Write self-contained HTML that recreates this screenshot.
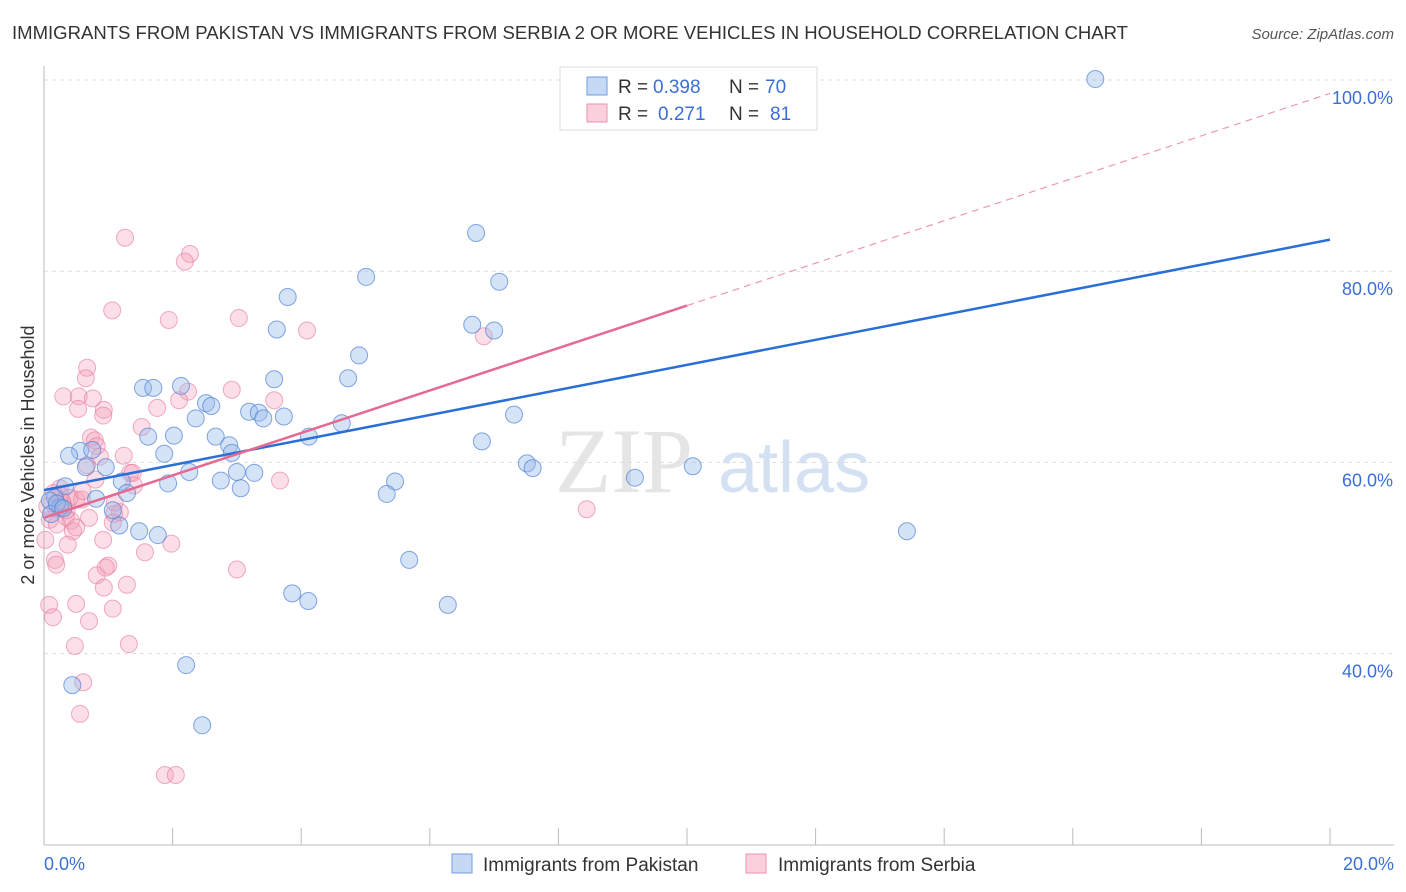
<!DOCTYPE html>
<html><head><meta charset="utf-8"><style>
body{margin:0;background:#fff;font-family:"Liberation Sans",sans-serif;}
svg{display:block}
</style></head><body>
<svg id="chart" width="1406" height="892">
<text x="12" y="39" font-size="18.5" fill="#333" textLength="1116" lengthAdjust="spacingAndGlyphs">IMMIGRANTS FROM PAKISTAN VS IMMIGRANTS FROM SERBIA 2 OR MORE VEHICLES IN HOUSEHOLD CORRELATION CHART</text>
<text x="1394" y="39" font-size="15" fill="#555" font-style="italic" text-anchor="end">Source: ZipAtlas.com</text>
<text transform="translate(34,455) rotate(-90)" font-size="18" fill="#333" text-anchor="middle">2 or more Vehicles in Household</text>
<g opacity="0.5">
<text x="555" y="492" font-size="92" font-family="Liberation Serif,serif" fill="#ccc">ZIP</text>
<text x="718" y="492" font-size="72" fill="#aac4e8">atlas</text>
</g>
<g id="grid"></g><g id="axes"></g><g id="pts"></g><g id="lines"></g>
<g>
<rect x="560" y="67" width="257" height="63" fill="#fff" stroke="#ddd"/>
<rect x="587" y="77" width="20" height="18" fill="#c5d9f5" stroke="#6f9de0"/>
<rect x="587" y="104" width="20" height="18" fill="#fbd0dc" stroke="#ec8fab"/>
<g font-size="19">
<text x="618" y="93" fill="#333">R =</text><text x="653" y="93" fill="#3a6fd8">0.398</text>
<text x="729" y="93" fill="#333">N =</text><text x="765" y="93" fill="#3a6fd8">70</text></g>
<g font-size="19">
<text x="618" y="120" fill="#333">R =</text><text x="658" y="120" fill="#3a6fd8">0.271</text>
<text x="729" y="120" fill="#333">N =</text><text x="770" y="120" fill="#3a6fd8">81</text></g>
</g>
<g>
<rect x="452" y="854" width="20" height="19" fill="#c5d9f5" stroke="#6f9de0"/>
<text x="483" y="871" font-size="19" fill="#333">Immigrants from Pakistan</text>
<rect x="746" y="854" width="20" height="19" fill="#fbd0dc" stroke="#ec8fab"/>
<text x="778" y="871" font-size="19" fill="#333">Immigrants from Serbia</text>
</g>
</svg>
<script>
const yTicks=[40,60,80,100];
const yTickLabels=["40.0%","60.0%","80.0%","100.0%"];
const xTickLabels=["0.0%","20.0%"];
const pakX=[16.35,6.72,7.08,5.01,3.79,3.62,6.66,7.0,4.9,4.73,3.58,1.54,1.7,2.13,2.52,2.6,2.36,3.19,3.34,3.41,3.73,4.63,7.31,1.62,2.02,2.67,2.88,2.92,4.12,6.81,1.87,0.56,0.39,0.75,0.65,0.96,2.26,3.0,3.27,7.51,7.6,10.09,9.19,1.93,2.75,3.06,5.46,5.33,1.21,1.29,0.81,0.33,0.17,0.09,0.25,0.11,1.07,1.17,1.48,1.77,13.42,5.68,3.86,4.11,6.28,2.21,0.44,2.46,0.2,0.3];
const pakY=[101.9,85.8,80.7,81.2,79.1,75.7,76.2,75.6,73.0,70.6,70.5,69.6,69.6,69.8,68.0,67.7,66.4,67.1,67.0,66.4,66.6,65.9,66.8,64.5,64.6,64.5,63.6,62.8,64.5,64.0,62.7,63.0,62.5,63.1,61.3,61.3,60.8,60.8,60.7,61.7,61.2,61.4,60.2,59.6,59.9,59.1,59.8,58.5,59.8,58.6,58.0,59.3,58.1,57.8,57.1,56.4,56.8,55.2,54.6,54.2,54.6,51.6,48.1,47.3,46.9,40.6,38.5,34.3,57.5,57.0].map(v=>v-1.8);
const serX=[1.26,2.27,2.19,1.06,1.94,3.03,4.09,6.84,0.67,0.65,0.30,0.54,0.76,0.53,0.93,0.92,2.92,2.24,2.10,1.76,3.58,1.52,0.73,0.79,0.82,1.24,0.87,1.34,1.38,0.67,3.67,0.25,0.50,0.59,0.19,0.34,0.42,1.09,1.18,1.07,0.45,0.92,8.44,1.57,1.98,0.37,0.17,0.19,0.82,1.0,0.96,3.0,1.29,0.93,0.08,0.50,1.07,0.14,0.70,1.32,0.48,0.61,0.56,1.88,2.05,0.25,0.09,0.02,0.3,0.6,0.4,1.1,0.2,0.8,0.35,0.15,0.7,1.4,0.5,0.28,0.05];
const serY=[83.5,81.8,81.0,75.9,74.9,75.1,73.8,73.2,69.9,68.8,66.9,66.9,66.7,65.6,65.5,64.9,67.6,67.4,66.5,65.7,66.5,63.7,62.6,62.3,61.7,60.7,60.6,58.9,58.9,59.7,58.1,57.3,56.1,56.1,55.2,54.3,53.9,54.6,54.8,53.7,52.8,51.9,55.1,50.6,51.5,51.4,49.8,49.3,48.2,49.2,49.0,48.8,47.2,46.9,45.1,45.2,44.7,43.8,43.4,41.0,40.8,37.0,33.7,27.3,27.3,56.6,54.0,51.9,55.5,57.0,56.3,55.8,53.5,58.2,55.0,56.8,54.2,57.6,53.2,55.9,55.4];
const pakTrend=[57.1,83.3];
const serTrend=[54.2,76.4];
const NS="http://www.w3.org/2000/svg";
const X0=44,X1=1330,Y100=80,PPV=9.56;
function xs(v){return X0+(X1-X0)*v/20;}
function ys(v){return Y100+(100-v)*PPV;}
function mk(tag,attrs,parent){const e=document.createElementNS(NS,tag);for(const k in attrs)e.setAttribute(k,attrs[k]);document.getElementById(parent).appendChild(e);return e;}
yTicks.forEach((t,i)=>{
 const g=mk('line',{x1:X0,x2:1394,y1:ys(t),y2:ys(t),stroke:'#ddd','stroke-dasharray':'4,4'},'grid');
 
 
 const l=mk('text',{x:1393,y:ys(t)+24,'font-size':18,fill:'#3a6fd8','text-anchor':'end'},'grid');
 l.textContent=yTickLabels[i];
 
 
});
const ax=mk('line',{x1:X0,x2:X0,y1:66,y2:845,stroke:'#bbb'},'axes');


const bx=mk('line',{x1:X0,x2:1394,y1:845,y2:845,stroke:'#bbb'},'axes');


for(let i=0;i<=10;i++){
 const t=mk('line',{x1:xs(i*2),x2:xs(i*2),y1:828,y2:845,stroke:'#bbb'},'axes');
 
 
}
[[0,'start',44],[20,'end',1394]].forEach((d,i)=>{
 const t=mk('text',{x:d[2],y:870,'font-size':18,fill:'#3a6fd8','text-anchor':d[1]},'axes');
 t.textContent=xTickLabels[i];
 
 
});
serX.forEach((x,i)=>{
 const c=mk('circle',{cx:xs(x),cy:ys(serY[i]),r:8.5,fill:'rgba(244,160,185,0.35)',stroke:'rgba(232,120,155,0.6)','stroke-width':1},'pts');
 
 
});
pakX.forEach((x,i)=>{
 const c=mk('circle',{cx:xs(x),cy:ys(pakY[i]),r:8.5,fill:'rgba(150,185,235,0.4)',stroke:'rgba(80,130,215,0.7)','stroke-width':1},'pts');
 
 
});
const pl=mk('line',{x1:xs(0),y1:ys(pakTrend[0]),x2:xs(20),y2:ys(pakTrend[1]),stroke:'#2a6fd6','stroke-width':2.5},'lines');


const sl=mk('line',{x1:xs(0),y1:ys(serTrend[0]),x2:xs(10),y2:ys(serTrend[1]),stroke:'#e56a93','stroke-width':2.5},'lines');


const slope=(serTrend[1]-serTrend[0])/10;
const sd=mk('line',{x1:xs(10),y1:ys(serTrend[1]),x2:xs(20),y2:ys(serTrend[1]+slope*10),stroke:'#eb9ab3','stroke-width':1.2,'stroke-dasharray':'7,5'},'lines');


</script>
</body></html>
